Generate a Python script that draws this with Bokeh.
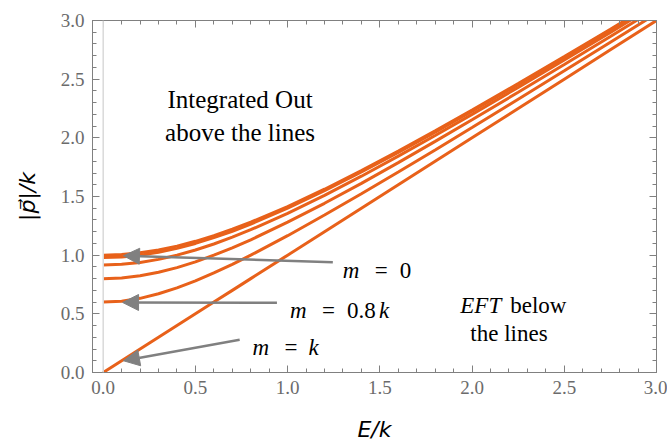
from bokeh.plotting import figure
from bokeh.models import (Range1d, LinearAxis, SingleIntervalTicker, Span, Arrow, NormalHead,
                          Label, PrintfTickFormatter, CustomJSTickFormatter)
from bokeh.embed import file_html
from bokeh.resources import INLINE

# ---- data ----
E = [0.0, 0.1, 0.2, 0.3, 0.4, 0.5, 0.6, 0.7, 0.8, 1.0, 1.2, 1.4, 1.6, 1.8, 2.0, 2.25, 2.5, 2.75, 3.0]
p_m00 = [1.000, 1.005, 1.020, 1.044, 1.077, 1.118, 1.166, 1.221, 1.281, 1.414, 1.562, 1.720, 1.887, 2.059, 2.236, 2.462, 2.693, 2.926, 3.162]
p_m02 = [0.980, 0.985, 1.000, 1.025, 1.058, 1.100, 1.149, 1.204, 1.265, 1.400, 1.549, 1.709, 1.876, 2.049, 2.227, 2.454, 2.685, 2.919, 3.156]
p_m04 = [0.917, 0.922, 0.938, 0.964, 1.000, 1.044, 1.095, 1.153, 1.217, 1.356, 1.510, 1.673, 1.844, 2.020, 2.200, 2.430, 2.663, 2.899, 3.137]
p_m06 = [0.800, 0.806, 0.825, 0.854, 0.894, 0.943, 1.000, 1.063, 1.131, 1.281, 1.442, 1.612, 1.789, 1.970, 2.154, 2.388, 2.625, 2.864, 3.105]
p_m08 = [0.600, 0.608, 0.632, 0.671, 0.721, 0.781, 0.849, 0.922, 1.000, 1.166, 1.342, 1.523, 1.709, 1.897, 2.088, 2.329, 2.571, 2.815, 3.059]
p_m10 = [0.000, 0.100, 0.200, 0.300, 0.400, 0.500, 0.600, 0.700, 0.800, 1.000, 1.200, 1.400, 1.600, 1.800, 2.000, 2.250, 2.500, 2.750, 3.000]
curves = [p_m00, p_m02, p_m04, p_m06, p_m08, p_m10]

x_label = "E/k"
y_label = "|p\u20d7|/k"

# ---- styling ----
ORANGE = "#E8611A"
GRAY = "#808080"
TICK_GRAY = "#6b6b6b"
SERIF = "Liberation Serif"
MATHF = "DejaVu Sans"

p = figure(width=667, height=447, output_backend="svg", toolbar_location=None,
           x_range=Range1d(-0.058, 3.0), y_range=Range1d(0, 3),
           min_border_left=92, min_border_right=11, min_border_top=20, min_border_bottom=75)
p.xgrid.visible = False
p.ygrid.visible = False
p.outline_line_color = GRAY
p.background_fill_color = "white"
p.border_fill_color = "white"

def style_axis(ax, labels=True):
    ax.ticker = SingleIntervalTicker(interval=0.5, num_minor_ticks=5)
    ax.axis_line_color = GRAY
    ax.major_tick_line_color = GRAY
    ax.minor_tick_line_color = GRAY
    ax.major_tick_in = 7
    ax.major_tick_out = 0
    ax.minor_tick_in = 4
    ax.minor_tick_out = 0
    ax.major_label_text_font = SERIF
    ax.major_label_text_font_size = "19px"
    ax.major_label_text_color = TICK_GRAY
    ax.major_label_standoff = 8
    if labels:
        ax.formatter = PrintfTickFormatter(format="%.1f")
    else:
        ax.formatter = CustomJSTickFormatter(code="return ''")
        ax.major_label_standoff = 0

style_axis(p.xaxis[0])
style_axis(p.yaxis[0])
p.xaxis[0].axis_label = x_label
p.yaxis[0].axis_label = y_label
for ax in (p.xaxis[0], p.yaxis[0]):
    ax.axis_label_text_font = MATHF
    ax.axis_label_text_font_style = "italic"
    ax.axis_label_text_font_size = "22px"
    ax.axis_label_text_color = "black"
p.xaxis[0].axis_label_standoff = 20
p.yaxis[0].axis_label_standoff = 18

top = LinearAxis()
right = LinearAxis()
style_axis(top, labels=False)
style_axis(right, labels=False)
p.add_layout(top, "above")
p.add_layout(right, "right")

p.add_layout(Span(location=0, dimension="height", line_color="#d9d9d9", line_width=1.5))

for c in curves:
    p.line(E, c, line_color=ORANGE, line_width=3)

# arrows
arrow_specs = [
    (1.245, 0.94, 0.11, 0.995),
    (0.942, 0.595, 0.105, 0.597),
    (0.74, 0.28, 0.11, 0.10),
]
for xs, ys, xe, ye in arrow_specs:
    p.add_layout(Arrow(end=NormalHead(size=16, fill_color=GRAY, line_color=GRAY),
                       x_start=xs, y_start=ys, x_end=xe, y_end=ye,
                       line_color=GRAY, line_width=2.5))

def lab(x, y, text, italic=False, xo=0, align="left", size="23px", font=SERIF):
    p.add_layout(Label(x=x, y=y, text=text, x_offset=xo, text_font=font,
                       text_font_style="italic" if italic else "normal",
                       text_font_size=size, text_color="black",
                       text_align=align, text_baseline="alphabetic"))

# m labels
lab(1.299, 0.866, "m", True)
lab(1.299, 0.866, "=", False, 32)
lab(1.299, 0.866, "0", False, 57)

lab(1.013, 0.53, "m", True)
lab(1.013, 0.53, "=", False, 32)
lab(1.013, 0.53, "0.8", False, 57)
lab(1.013, 0.53, "k", True, 89)

lab(0.809, 0.216, "m", True)
lab(0.809, 0.216, "=", False, 32)
lab(0.809, 0.216, "k", True, 56)

lab(0.742, 2.325, "Integrated Out", align="center", size="25px")
lab(0.742, 2.043, "above the lines", align="center", size="25px")

lab(2.158, 0.573, "EFT", True, align="right")
lab(2.207, 0.573, "below")
lab(2.20, 0.333, "the lines", align="center")

open("out.html", "w").write(file_html(p, INLINE))
